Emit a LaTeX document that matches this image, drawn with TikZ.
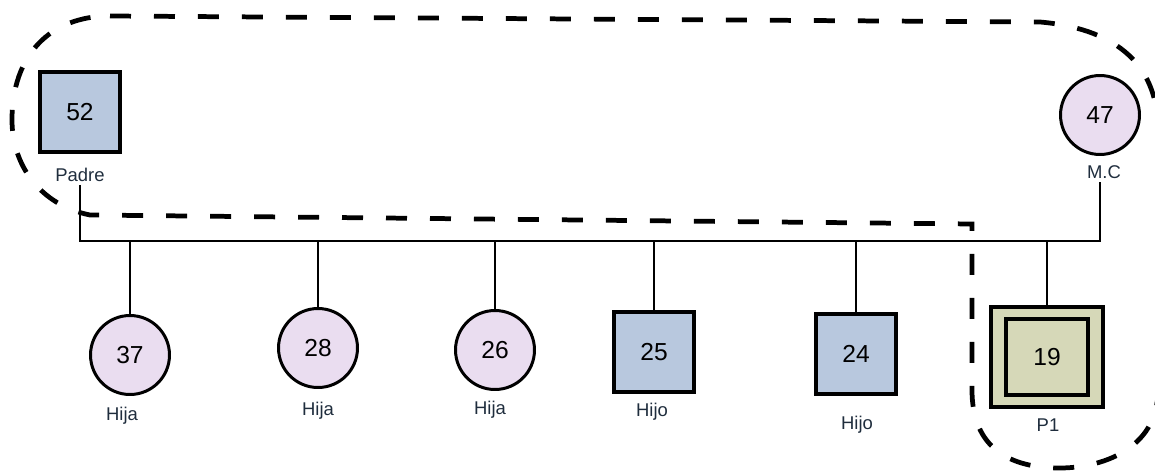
\documentclass[tikz,border=0pt]{standalone}
\usepackage{fontspec}
\setmainfont{Liberation Sans}
\usetikzlibrary{positioning}
\definecolor{malefill}{HTML}{B8C8DE}
\definecolor{femalefill}{HTML}{EADDF0}
\definecolor{indexfill}{HTML}{D6D8B8}
\definecolor{labeltext}{HTML}{1F2D3D}

\begin{document}
\begin{tikzpicture}[x=0.02cm, y=-0.02cm, line width=1.6pt,
  male node/.style={rectangle,draw,line width=2.4pt,fill=malefill,minimum size=1.6cm,inner sep=0pt,font=\fontsize{14}{16}\selectfont},
  female node/.style={circle,draw,line width=1.7pt,fill=femalefill,minimum size=1.58cm,inner sep=0pt,font=\fontsize{14}{16}\selectfont},
  name node/.style={text=labeltext,inner sep=1pt,font=\fontsize{10.5}{12}\selectfont},
  group line/.style={draw=black,line width=2.7pt,dash pattern=on 0.42cm off 0.46cm}]
\useasboundingbox (0,0) rectangle (1155,470);
%parents
\begin{scope}[every node/.style={}]
\node[male node] (v52) at (80,112) {52};
\node[female node] (v47) at (1100,115) {47};
\node[female node] (v37) at (130,355) {37};
\node[female node] (v28) at (318,348) {28};
\node[female node] (v26) at (495,350) {26};
\node[male node] (v25) at (654,352) {25};
\node[male node] (v24) at (856,354) {24};
\node[rectangle,draw,line width=2.4pt,fill=indexfill,minimum width=2.24cm,minimum height=2cm] (p1box) at (1047,357) {};
\node[male node,fill=indexfill,minimum width=1.64cm,minimum height=1.52cm] (v19) at (1047,357) {19};
\end{scope}
\begin{scope}[every node/.style={name node}]
\node (lpadre) at (80,175) {Padre};
\node (lmc) at (1104,172) {M.C};
\node (l37) at (122,416) {Hija};
\node (l28) at (318,411) {Hija};
\node (l26) at (490,410) {Hija};
\node (l25) at (652,412) {Hijo};
\node (l24) at (857,425) {Hijo};
\node (l19) at (1048,425) {P1};
\end{scope}
\coordinate (bl) at (80,241);
\coordinate (br) at (1100,241);
\draw (lpadre) -- (bl) -- (br) -- (br |- lmc.south);
\foreach \v in {v37,v28,v26,v25,v24,p1box}
  \draw (\v |- bl) -- (\v);
%household
\draw[group line] (110,16) -- (1040,22) .. controls (1110,28) and (1158,60) .. (1158,130) -- (1158,390)
  .. controls (1158,450) and (1100,468) .. (1060,468) .. controls (1000,468) and (972,440) .. (972,390)
  -- (972,224) -- (90,215) .. controls (40,205) and (12,165) .. (12,120) .. controls (12,55) and (50,16) .. cycle;
\end{tikzpicture}
\end{document}
